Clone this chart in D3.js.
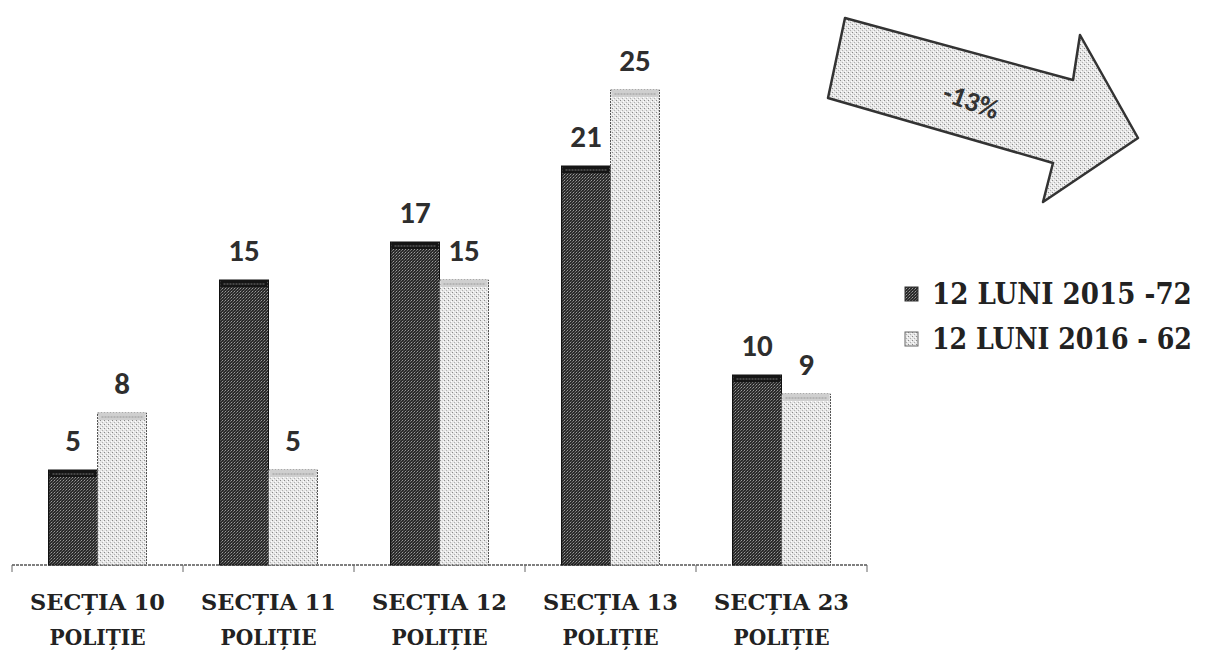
<!DOCTYPE html>
<html><head><meta charset="utf-8">
<script src="https://cdn.jsdelivr.net/npm/d3@7/dist/d3.min.js"></script>
<style>body{margin:0;background:#fff}svg{display:block}</style>
</head><body>
<svg id="c" width="1207" height="656"></svg>
<script>
const categories = [["SECȚIA 10","POLIȚIE"],["SECȚIA 11","POLIȚIE"],["SECȚIA 12","POLIȚIE"],["SECȚIA 13","POLIȚIE"],["SECȚIA 23","POLIȚIE"]];
const series2015 = [5, 15, 17, 21, 10];
const series2016 = [8, 5, 15, 25, 9];
const seriesNames = ["12 LUNI 2015 -72", "12 LUNI 2016 - 62"];
const changeLabel = "-13%";

const svg = d3.select("#c");
const defs = svg.append("defs");
const pd = defs.append("pattern").attr("id","pDark").attr("width",3).attr("height",3).attr("patternUnits","userSpaceOnUse");
pd.append("rect").attr("width",3).attr("height",3).attr("fill","#2a2a2a");
pd.append("rect").attr("x",0).attr("y",0).attr("width",1).attr("height",1).attr("fill","#9a9a9a");
pd.append("rect").attr("x",2).attr("y",1).attr("width",1).attr("height",1).attr("fill","#707070");
pd.append("rect").attr("x",1).attr("y",2).attr("width",1).attr("height",1).attr("fill","#555");
const pl = defs.append("pattern").attr("id","pLight").attr("width",4).attr("height",4).attr("patternUnits","userSpaceOnUse");
pl.append("rect").attr("width",4).attr("height",4).attr("fill","#e6e6e6");
pl.append("rect").attr("x",0).attr("y",0).attr("width",1).attr("height",1).attr("fill","#8a8a8a");
pl.append("rect").attr("x",2).attr("y",2).attr("width",1).attr("height",1).attr("fill","#b0b0b0");
pl.append("rect").attr("x",3).attr("y",1).attr("width",1).attr("height",1).attr("fill","#fff");
pl.append("rect").attr("x",1).attr("y",3).attr("width",1).attr("height",1).attr("fill","#fff");

const serif = "'DejaVu Serif',serif";
const sans = "Carlito,'Liberation Sans',sans-serif";

function fitText(sel, x, yy, target) {
  const len = sel.node().getComputedTextLength();
  sel.attr("x", 0).attr("y", 0).attr("transform", `translate(${x},${yy}) scale(${target/len},1)`);
}

const x0 = d3.scaleBand().domain(d3.range(categories.length)).range([12, 867]).paddingInner(0).paddingOuter(0);
const y = d3.scaleLinear().domain([0, 25]).range([565, 90]);
const bw = 49;

const ax = svg.append("g").attr("transform","translate(0,565)");
ax.append("line").attr("x1",12).attr("x2",867).attr("stroke","#555").attr("stroke-width",1.3).attr("stroke-dasharray","3,1");
ax.selectAll("line.t").data(d3.range(categories.length+1)).join("line")
  .attr("x1",d=>12 + d*x0.bandwidth()).attr("x2",d=>12 + d*x0.bandwidth())
  .attr("y1",0).attr("y2",7).attr("stroke","#666").attr("stroke-width",1);

const g = svg.append("g");
categories.forEach((c,i)=>{
  const cx = x0(i) + x0.bandwidth()/2;
  [[series2015[i],"pDark",cx-bw,"#111"],[series2016[i],"pLight",cx,"#555"]].forEach(([v,p,bx,st])=>{
    g.append("rect").attr("x",bx).attr("y",y(v)).attr("width",bw).attr("height",y(0)-y(v))
      .attr("fill",`url(#${p})`).attr("stroke",st).attr("stroke-width",1).attr("stroke-dasharray", p==="pLight"?"2,1":null);
    g.append("rect").attr("x",bx+1).attr("y",y(v)).attr("width",bw-2).attr("height",7)
      .attr("fill", p==="pDark" ? "#151515" : "#cfcfcf");
    g.append("line").attr("x1",bx+4).attr("x2",bx+bw-4).attr("y1",y(v)+4).attr("y2",y(v)+4)
      .attr("stroke", p==="pDark" ? "#777" : "#999").attr("stroke-width",1).attr("stroke-dasharray","2,1");
    g.append("text").attr("x",bx+bw/2).attr("y",y(v)-19).attr("text-anchor","middle")
      .attr("font-family",sans).attr("font-weight","bold").attr("font-size",31)
      .attr("fill","#2e2e2e").text(v);
  });
  [[c[0],610,135],[c[1],645,96]].forEach(([s,yy,w])=>{
    const t = g.append("text").attr("text-anchor","middle").attr("font-family",serif)
      .attr("font-weight","bold").attr("font-size",22).attr("fill","#222").text(s);
    fitText(t, cx, yy, w);
  });
});

const lg = svg.append("g");
seriesNames.forEach((n,i)=>{
  const ly = 304 + i*45;
  lg.append("rect").attr("x",905).attr("y",ly-17).attr("width",13).attr("height",14)
    .attr("fill", i===0 ? "url(#pDark)" : "url(#pLight)").attr("stroke", i===0?"#333":"#666");
  const t = lg.append("text").attr("font-family",serif).attr("font-weight","bold").attr("font-size",30).attr("fill","#222").text(n);
  fitText(t, 932, ly, 260);
});

const arrowPts = [[845,18],[1073,80],[1080,35],[1138,138],[1043,202],[1053,163],[828,98]];
svg.append("polygon").attr("points", arrowPts.map(p=>p.join(",")).join(" "))
  .attr("fill","url(#pLight)").attr("stroke","#333").attr("stroke-width",2.5).attr("stroke-linejoin","round");
svg.append("text").attr("transform","translate(968,110) rotate(20)").attr("text-anchor","middle")
  .attr("font-family",sans).attr("font-weight","bold").attr("font-size",28)
  .attr("fill","#333").text(changeLabel);
</script>
</body></html>
